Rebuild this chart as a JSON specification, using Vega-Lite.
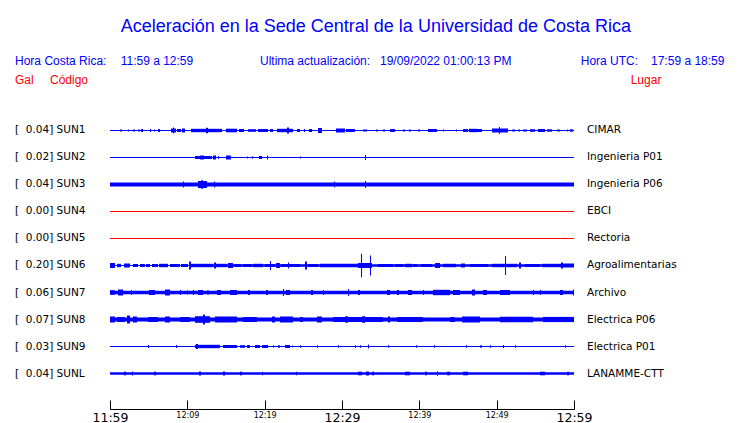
{
  "$schema": "https://vega.github.io/schema/vega-lite/v6.json",
  "width": 464,
  "height": 409,
  "autosize": "none",
  "padding": {"left": 110, "top": 0, "right": 166, "bottom": 14},
  "background": "white",
  "config": {"view": {"stroke": null}},
  "title": {
    "text": "Aceleración en la Sede Central de la Universidad de Costa Rica",
    "anchor": "start", "frame": "group", "dx": 10.7, "offset": -50,
    "baseline": "alphabetic", "font": "Liberation Sans", "fontSize": 18,
    "fontWeight": "normal", "color": "#0000ff"
  },
  "datasets": {
    "estaciones": [
      {"fila": 0, "codigo": "SUN1", "gal": 0.04, "etiqueta": "[\u00a0\u00a00.04]\u00a0SUN1", "lugar": "CIMAR", "estado": "activa"},
      {"fila": 1, "codigo": "SUN2", "gal": 0.02, "etiqueta": "[\u00a0\u00a00.02]\u00a0SUN2", "lugar": "Ingenieria P01", "estado": "activa"},
      {"fila": 2, "codigo": "SUN3", "gal": 0.04, "etiqueta": "[\u00a0\u00a00.04]\u00a0SUN3", "lugar": "Ingenieria P06", "estado": "activa"},
      {"fila": 3, "codigo": "SUN4", "gal": 0.00, "etiqueta": "[\u00a0\u00a00.00]\u00a0SUN4", "lugar": "EBCI", "estado": "inactiva"},
      {"fila": 4, "codigo": "SUN5", "gal": 0.00, "etiqueta": "[\u00a0\u00a00.00]\u00a0SUN5", "lugar": "Rectoria", "estado": "inactiva"},
      {"fila": 5, "codigo": "SUN6", "gal": 0.20, "etiqueta": "[\u00a0\u00a00.20]\u00a0SUN6", "lugar": "Agroalimentarias", "estado": "activa"},
      {"fila": 6, "codigo": "SUN7", "gal": 0.06, "etiqueta": "[\u00a0\u00a00.06]\u00a0SUN7", "lugar": "Archivo", "estado": "activa"},
      {"fila": 7, "codigo": "SUN8", "gal": 0.07, "etiqueta": "[\u00a0\u00a00.07]\u00a0SUN8", "lugar": "Electrica P06", "estado": "activa"},
      {"fila": 8, "codigo": "SUN9", "gal": 0.03, "etiqueta": "[\u00a0\u00a00.03]\u00a0SUN9", "lugar": "Electrica P01", "estado": "activa"},
      {"fila": 9, "codigo": "SUNL", "gal": 0.04, "etiqueta": "[\u00a0\u00a00.04]\u00a0SUNL", "lugar": "LANAMME-CTT", "estado": "activa"}
    ],
    "encabezado": [
      {"texto": "Hora Costa Rica:", "t": -12.28, "linea": 1},
      {"texto": "11:59 a 12:59", "t": 1.38, "linea": 1},
      {"texto": "Ultima actualización:", "t": 19.40, "linea": 1},
      {"texto": "19/09/2022 01:00:13 PM", "t": 34.91, "linea": 1},
      {"texto": "Hora UTC:", "t": 60.87, "linea": 1},
      {"texto": "17:59 a 18:59", "t": 69.96, "linea": 1},
      {"texto": "Gal", "t": -12.28, "linea": 2},
      {"texto": "Código", "t": -7.76, "linea": 2},
      {"texto": "Lugar", "t": 67.33, "linea": 2}
    ],
    "trazas": [
      {"e":"SUN1","t0":1.29,"t1":1.55,"lo":-0.037,"hi":0.037},
      {"e":"SUN1","t0":2.33,"t1":2.46,"lo":-0.037,"hi":0.037},
      {"e":"SUN1","t0":2.97,"t1":3.23,"lo":-0.037,"hi":0.037},
      {"e":"SUN1","t0":3.62,"t1":3.88,"lo":-0.037,"hi":0.037},
      {"e":"SUN1","t0":4.01,"t1":4.27,"lo":-0.055,"hi":0.055},
      {"e":"SUN1","t0":5.17,"t1":5.30,"lo":-0.055,"hi":0.055},
      {"e":"SUN1","t0":5.69,"t1":5.82,"lo":-0.037,"hi":0.037},
      {"e":"SUN1","t0":6.21,"t1":6.47,"lo":-0.055,"hi":0.055},
      {"e":"SUN1","t0":7.89,"t1":8.53,"lo":-0.074,"hi":0.074},
      {"e":"SUN1","t0":8.15,"t1":8.28,"lo":-0.111,"hi":0.111},
      {"e":"SUN1","t0":8.66,"t1":9.18,"lo":-0.055,"hi":0.055},
      {"e":"SUN1","t0":9.31,"t1":9.70,"lo":-0.074,"hi":0.074},
      {"e":"SUN1","t0":10.47,"t1":14.48,"lo":-0.063,"hi":0.063},
      {"e":"SUN1","t0":12.41,"t1":12.67,"lo":-0.1,"hi":0.1},
      {"e":"SUN1","t0":15.0,"t1":16.42,"lo":-0.067,"hi":0.067},
      {"e":"SUN1","t0":16.68,"t1":17.33,"lo":-0.055,"hi":0.055},
      {"e":"SUN1","t0":17.84,"t1":18.88,"lo":-0.048,"hi":0.048},
      {"e":"SUN1","t0":19.14,"t1":20.43,"lo":-0.055,"hi":0.055},
      {"e":"SUN1","t0":20.69,"t1":21.08,"lo":-0.055,"hi":0.055},
      {"e":"SUN1","t0":21.59,"t1":23.66,"lo":-0.063,"hi":0.063},
      {"e":"SUN1","t0":22.89,"t1":23.15,"lo":-0.111,"hi":0.111},
      {"e":"SUN1","t0":24.18,"t1":24.57,"lo":-0.055,"hi":0.055},
      {"e":"SUN1","t0":25.09,"t1":25.22,"lo":-0.055,"hi":0.055},
      {"e":"SUN1","t0":25.73,"t1":26.12,"lo":-0.055,"hi":0.055},
      {"e":"SUN1","t0":26.90,"t1":27.41,"lo":-0.092,"hi":0.092},
      {"e":"SUN1","t0":29.22,"t1":30.39,"lo":-0.074,"hi":0.074},
      {"e":"SUN1","t0":30.52,"t1":31.68,"lo":-0.055,"hi":0.055},
      {"e":"SUN1","t0":32.72,"t1":33.23,"lo":-0.037,"hi":0.037},
      {"e":"SUN1","t0":34.40,"t1":34.66,"lo":-0.037,"hi":0.037},
      {"e":"SUN1","t0":35.30,"t1":35.56,"lo":-0.037,"hi":0.037},
      {"e":"SUN1","t0":36.21,"t1":36.85,"lo":-0.055,"hi":0.055},
      {"e":"SUN1","t0":37.89,"t1":38.15,"lo":-0.037,"hi":0.037},
      {"e":"SUN1","t0":38.66,"t1":38.92,"lo":-0.037,"hi":0.037},
      {"e":"SUN1","t0":39.83,"t1":40.09,"lo":-0.037,"hi":0.037},
      {"e":"SUN1","t0":41.12,"t1":42.28,"lo":-0.055,"hi":0.055},
      {"e":"SUN1","t0":43.06,"t1":43.19,"lo":-0.037,"hi":0.037},
      {"e":"SUN1","t0":44.74,"t1":44.87,"lo":-0.037,"hi":0.037},
      {"e":"SUN1","t0":45.65,"t1":46.29,"lo":-0.055,"hi":0.055},
      {"e":"SUN1","t0":46.42,"t1":47.46,"lo":-0.063,"hi":0.063},
      {"e":"SUN1","t0":47.46,"t1":48.10,"lo":-0.055,"hi":0.055},
      {"e":"SUN1","t0":49.40,"t1":51.47,"lo":-0.074,"hi":0.074},
      {"e":"SUN1","t0":50.30,"t1":50.43,"lo":-0.129,"hi":0.129},
      {"e":"SUN1","t0":51.98,"t1":52.37,"lo":-0.037,"hi":0.037},
      {"e":"SUN1","t0":52.76,"t1":53.02,"lo":-0.037,"hi":0.037},
      {"e":"SUN1","t0":53.41,"t1":53.92,"lo":-0.037,"hi":0.037},
      {"e":"SUN1","t0":54.31,"t1":54.96,"lo":-0.048,"hi":0.048},
      {"e":"SUN1","t0":55.34,"t1":56.25,"lo":-0.055,"hi":0.055},
      {"e":"SUN1","t0":56.51,"t1":57.16,"lo":-0.044,"hi":0.044},
      {"e":"SUN1","t0":57.80,"t1":58.19,"lo":-0.037,"hi":0.037},
      {"e":"SUN1","t0":59.10,"t1":59.22,"lo":-0.037,"hi":0.037},
      {"e":"SUN1","t0":59.48,"t1":59.87,"lo":-0.044,"hi":0.044},

      {"e":"SUN2","t0":10.99,"t1":13.19,"lo":0.945,"hi":1.055},
      {"e":"SUN2","t0":11.64,"t1":12.16,"lo":0.926,"hi":1.074},
      {"e":"SUN2","t0":13.32,"t1":13.71,"lo":0.926,"hi":1.074},
      {"e":"SUN2","t0":13.97,"t1":14.09,"lo":0.945,"hi":1.055},
      {"e":"SUN2","t0":15.0,"t1":15.65,"lo":0.926,"hi":1.074},
      {"e":"SUN2","t0":17.72,"t1":17.84,"lo":0.963,"hi":1.037},
      {"e":"SUN2","t0":18.36,"t1":18.49,"lo":0.956,"hi":1.044},
      {"e":"SUN2","t0":19.27,"t1":19.66,"lo":0.945,"hi":1.055},
      {"e":"SUN2","t0":20.30,"t1":20.43,"lo":0.926,"hi":1.074},
      {"e":"SUN2","t0":24.57,"t1":24.70,"lo":0.963,"hi":1.037},
      {"e":"SUN2","t0":32.97,"t1":33.10,"lo":0.908,"hi":1.092},

      {"e":"SUN3","t0":0,"t1":60,"lo":1.926,"hi":2.074},
      {"e":"SUN3","t0":11.38,"t1":12.54,"lo":1.871,"hi":2.129},
      {"e":"SUN3","t0":11.77,"t1":12.03,"lo":1.845,"hi":2.155},
      {"e":"SUN3","t0":9.44,"t1":9.57,"lo":1.889,"hi":2.111},
      {"e":"SUN3","t0":13.45,"t1":13.58,"lo":1.889,"hi":2.111},
      {"e":"SUN3","t0":32.97,"t1":33.10,"lo":1.871,"hi":2.129},
      {"e":"SUN3","t0":28.97,"t1":29.09,"lo":1.889,"hi":2.111},

      {"e":"SUN6","t0":10.47,"t1":60,"lo":4.952,"hi":5.048},
      {"e":"SUN6","t0":0,"t1":0.65,"lo":4.908,"hi":5.092},
      {"e":"SUN6","t0":0.91,"t1":1.42,"lo":4.937,"hi":5.063},
      {"e":"SUN6","t0":1.81,"t1":2.59,"lo":4.926,"hi":5.074},
      {"e":"SUN6","t0":2.97,"t1":3.62,"lo":4.945,"hi":5.055},
      {"e":"SUN6","t0":3.88,"t1":4.53,"lo":4.945,"hi":5.055},
      {"e":"SUN6","t0":4.66,"t1":5.17,"lo":4.945,"hi":5.055},
      {"e":"SUN6","t0":5.43,"t1":6.21,"lo":4.945,"hi":5.055},
      {"e":"SUN6","t0":6.34,"t1":7.50,"lo":4.937,"hi":5.063},
      {"e":"SUN6","t0":7.76,"t1":9.05,"lo":4.945,"hi":5.055},
      {"e":"SUN6","t0":9.18,"t1":10.09,"lo":4.945,"hi":5.055},
      {"e":"SUN6","t0":10.22,"t1":10.47,"lo":4.852,"hi":5.148},
      {"e":"SUN6","t0":10.47,"t1":13.32,"lo":4.937,"hi":5.063},
      {"e":"SUN6","t0":13.45,"t1":13.71,"lo":4.889,"hi":5.111},
      {"e":"SUN6","t0":13.71,"t1":15.13,"lo":4.937,"hi":5.063},
      {"e":"SUN6","t0":15.26,"t1":15.91,"lo":4.908,"hi":5.092},
      {"e":"SUN6","t0":16.03,"t1":16.94,"lo":4.945,"hi":5.055},
      {"e":"SUN6","t0":17.20,"t1":18.36,"lo":4.945,"hi":5.055},
      {"e":"SUN6","t0":18.49,"t1":19.78,"lo":4.937,"hi":5.063},
      {"e":"SUN6","t0":20.04,"t1":21.34,"lo":4.945,"hi":5.055},
      {"e":"SUN6","t0":20.69,"t1":20.82,"lo":4.834,"hi":5.166},
      {"e":"SUN6","t0":21.47,"t1":21.98,"lo":4.908,"hi":5.092},
      {"e":"SUN6","t0":22.11,"t1":24.57,"lo":4.945,"hi":5.055},
      {"e":"SUN6","t0":23.02,"t1":23.15,"lo":4.889,"hi":5.111},
      {"e":"SUN6","t0":25.22,"t1":25.47,"lo":4.852,"hi":5.148},
      {"e":"SUN6","t0":25.60,"t1":26.90,"lo":4.945,"hi":5.055},
      {"e":"SUN6","t0":27.16,"t1":32.07,"lo":4.937,"hi":5.063},
      {"e":"SUN6","t0":32.07,"t1":33.88,"lo":4.908,"hi":5.092},
      {"e":"SUN6","t0":32.46,"t1":32.59,"lo":4.567,"hi":5.433},
      {"e":"SUN6","t0":33.62,"t1":33.75,"lo":4.63,"hi":5.37},
      {"e":"SUN6","t0":34.66,"t1":36.59,"lo":4.945,"hi":5.055},
      {"e":"SUN6","t0":36.85,"t1":37.89,"lo":4.945,"hi":5.055},
      {"e":"SUN6","t0":38.15,"t1":39.05,"lo":4.937,"hi":5.063},
      {"e":"SUN6","t0":39.18,"t1":39.70,"lo":4.945,"hi":5.055},
      {"e":"SUN6","t0":40.22,"t1":41.64,"lo":4.945,"hi":5.055},
      {"e":"SUN6","t0":42.03,"t1":42.67,"lo":4.908,"hi":5.092},
      {"e":"SUN6","t0":43.06,"t1":44.74,"lo":4.937,"hi":5.063},
      {"e":"SUN6","t0":45.39,"t1":45.91,"lo":4.926,"hi":5.074},
      {"e":"SUN6","t0":46.55,"t1":48.88,"lo":4.945,"hi":5.055},
      {"e":"SUN6","t0":49.40,"t1":52.63,"lo":4.937,"hi":5.063},
      {"e":"SUN6","t0":51.08,"t1":51.21,"lo":4.649,"hi":5.351},
      {"e":"SUN6","t0":52.89,"t1":53.15,"lo":4.889,"hi":5.111},
      {"e":"SUN6","t0":53.66,"t1":55.60,"lo":4.945,"hi":5.055},
      {"e":"SUN6","t0":55.86,"t1":58.45,"lo":4.937,"hi":5.063},
      {"e":"SUN6","t0":58.32,"t1":58.58,"lo":4.889,"hi":5.111},
      {"e":"SUN6","t0":58.58,"t1":60,"lo":4.926,"hi":5.074},

      {"e":"SUN7","t0":0,"t1":60,"lo":5.933,"hi":6.067},
      {"e":"SUN7","t0":0,"t1":0.65,"lo":5.915,"hi":6.085},
      {"e":"SUN7","t0":1.03,"t1":1.68,"lo":5.889,"hi":6.111},
      {"e":"SUN7","t0":2.72,"t1":2.84,"lo":5.908,"hi":6.092},
      {"e":"SUN7","t0":5.04,"t1":5.82,"lo":5.908,"hi":6.092},
      {"e":"SUN7","t0":7.11,"t1":7.76,"lo":5.889,"hi":6.111},
      {"e":"SUN7","t0":9.05,"t1":9.18,"lo":5.908,"hi":6.092},
      {"e":"SUN7","t0":9.96,"t1":10.09,"lo":5.926,"hi":6.074},
      {"e":"SUN7","t0":10.73,"t1":10.86,"lo":5.908,"hi":6.092},
      {"e":"SUN7","t0":11.38,"t1":12.03,"lo":5.908,"hi":6.092},
      {"e":"SUN7","t0":12.54,"t1":12.80,"lo":5.926,"hi":6.074},
      {"e":"SUN7","t0":13.84,"t1":14.35,"lo":5.908,"hi":6.092},
      {"e":"SUN7","t0":15.52,"t1":16.42,"lo":5.908,"hi":6.092},
      {"e":"SUN7","t0":17.84,"t1":18.10,"lo":5.908,"hi":6.092},
      {"e":"SUN7","t0":20.17,"t1":20.43,"lo":5.908,"hi":6.092},
      {"e":"SUN7","t0":22.37,"t1":22.50,"lo":5.871,"hi":6.129},
      {"e":"SUN7","t0":22.76,"t1":23.28,"lo":5.908,"hi":6.092},
      {"e":"SUN7","t0":25.99,"t1":26.25,"lo":5.908,"hi":6.092},
      {"e":"SUN7","t0":27.54,"t1":27.67,"lo":5.908,"hi":6.092},
      {"e":"SUN7","t0":30.78,"t1":30.90,"lo":5.871,"hi":6.129},
      {"e":"SUN7","t0":32.07,"t1":32.33,"lo":5.908,"hi":6.092},
      {"e":"SUN7","t0":35.82,"t1":36.21,"lo":5.908,"hi":6.092},
      {"e":"SUN7","t0":37.11,"t1":37.37,"lo":5.908,"hi":6.092},
      {"e":"SUN7","t0":38.53,"t1":39.05,"lo":5.908,"hi":6.092},
      {"e":"SUN7","t0":40.47,"t1":40.60,"lo":5.908,"hi":6.092},
      {"e":"SUN7","t0":41.77,"t1":43.97,"lo":5.9,"hi":6.1},
      {"e":"SUN7","t0":44.35,"t1":45.26,"lo":5.908,"hi":6.092},
      {"e":"SUN7","t0":46.81,"t1":47.20,"lo":5.889,"hi":6.111},
      {"e":"SUN7","t0":48.23,"t1":48.75,"lo":5.908,"hi":6.092},
      {"e":"SUN7","t0":50.43,"t1":51.72,"lo":5.908,"hi":6.092},
      {"e":"SUN7","t0":54.70,"t1":54.83,"lo":5.908,"hi":6.092},
      {"e":"SUN7","t0":55.60,"t1":55.73,"lo":5.908,"hi":6.092},
      {"e":"SUN7","t0":58.19,"t1":58.58,"lo":5.908,"hi":6.092},
      {"e":"SUN7","t0":59.87,"t1":60,"lo":5.889,"hi":6.111},

      {"e":"SUN8","t0":0,"t1":60,"lo":6.926,"hi":7.074},
      {"e":"SUN8","t0":0,"t1":0.65,"lo":6.889,"hi":7.111},
      {"e":"SUN8","t0":0.91,"t1":1.94,"lo":6.908,"hi":7.092},
      {"e":"SUN8","t0":2.20,"t1":2.59,"lo":6.852,"hi":7.148},
      {"e":"SUN8","t0":2.97,"t1":3.49,"lo":6.889,"hi":7.111},
      {"e":"SUN8","t0":4.91,"t1":6.21,"lo":6.908,"hi":7.092},
      {"e":"SUN8","t0":7.11,"t1":7.76,"lo":6.889,"hi":7.111},
      {"e":"SUN8","t0":9.05,"t1":10.34,"lo":6.908,"hi":7.092},
      {"e":"SUN8","t0":10.99,"t1":12.93,"lo":6.878,"hi":7.122},
      {"e":"SUN8","t0":12.03,"t1":12.28,"lo":6.815,"hi":7.185},
      {"e":"SUN8","t0":13.58,"t1":16.42,"lo":6.889,"hi":7.111},
      {"e":"SUN8","t0":17.20,"t1":19.01,"lo":6.908,"hi":7.092},
      {"e":"SUN8","t0":20.95,"t1":21.34,"lo":6.889,"hi":7.111},
      {"e":"SUN8","t0":21.98,"t1":23.66,"lo":6.889,"hi":7.111},
      {"e":"SUN8","t0":24.57,"t1":24.96,"lo":6.908,"hi":7.092},
      {"e":"SUN8","t0":26.77,"t1":27.41,"lo":6.889,"hi":7.111},
      {"e":"SUN8","t0":28.84,"t1":35.30,"lo":6.908,"hi":7.092},
      {"e":"SUN8","t0":30.39,"t1":30.78,"lo":6.882,"hi":7.118},
      {"e":"SUN8","t0":32.59,"t1":32.97,"lo":6.878,"hi":7.122},
      {"e":"SUN8","t0":35.95,"t1":36.21,"lo":6.889,"hi":7.111},
      {"e":"SUN8","t0":37.11,"t1":40.47,"lo":6.908,"hi":7.092},
      {"e":"SUN8","t0":43.97,"t1":44.61,"lo":6.908,"hi":7.092},
      {"e":"SUN8","t0":45.52,"t1":47.84,"lo":6.889,"hi":7.111},
      {"e":"SUN8","t0":50.43,"t1":54.70,"lo":6.896,"hi":7.104},
      {"e":"SUN8","t0":55.99,"t1":60,"lo":6.904,"hi":7.096},

      {"e":"SUN9","t0":4.91,"t1":5.04,"lo":7.945,"hi":8.055},
      {"e":"SUN9","t0":8.53,"t1":8.66,"lo":7.945,"hi":8.055},
      {"e":"SUN9","t0":10.99,"t1":14.22,"lo":7.937,"hi":8.063},
      {"e":"SUN9","t0":11.12,"t1":11.38,"lo":7.908,"hi":8.092},
      {"e":"SUN9","t0":14.61,"t1":16.42,"lo":7.945,"hi":8.055},
      {"e":"SUN9","t0":16.81,"t1":17.46,"lo":7.952,"hi":8.048},
      {"e":"SUN9","t0":17.72,"t1":18.10,"lo":7.945,"hi":8.055},
      {"e":"SUN9","t0":18.75,"t1":19.40,"lo":7.945,"hi":8.055},
      {"e":"SUN9","t0":19.66,"t1":20.43,"lo":7.945,"hi":8.055},
      {"e":"SUN9","t0":21.08,"t1":21.21,"lo":7.952,"hi":8.048},
      {"e":"SUN9","t0":21.72,"t1":21.98,"lo":7.956,"hi":8.044},
      {"e":"SUN9","t0":22.63,"t1":23.28,"lo":7.945,"hi":8.055},
      {"e":"SUN9","t0":23.53,"t1":23.66,"lo":7.963,"hi":8.037},
      {"e":"SUN9","t0":24.57,"t1":24.70,"lo":7.956,"hi":8.044},
      {"e":"SUN9","t0":26.77,"t1":26.90,"lo":7.956,"hi":8.044},
      {"e":"SUN9","t0":29.48,"t1":29.61,"lo":7.956,"hi":8.044},
      {"e":"SUN9","t0":31.68,"t1":31.81,"lo":7.952,"hi":8.048},
      {"e":"SUN9","t0":32.33,"t1":32.46,"lo":7.956,"hi":8.044},
      {"e":"SUN9","t0":33.36,"t1":33.49,"lo":7.926,"hi":8.074},
      {"e":"SUN9","t0":35.95,"t1":36.08,"lo":7.956,"hi":8.044},
      {"e":"SUN9","t0":39.57,"t1":39.70,"lo":7.956,"hi":8.044},
      {"e":"SUN9","t0":41.90,"t1":42.03,"lo":7.956,"hi":8.044},
      {"e":"SUN9","t0":46.03,"t1":46.16,"lo":7.956,"hi":8.044},
      {"e":"SUN9","t0":47.84,"t1":48.10,"lo":7.956,"hi":8.044},
      {"e":"SUN9","t0":49.14,"t1":49.27,"lo":7.956,"hi":8.044},
      {"e":"SUN9","t0":50.82,"t1":50.95,"lo":7.945,"hi":8.055},
      {"e":"SUN9","t0":52.37,"t1":52.50,"lo":7.956,"hi":8.044},
      {"e":"SUN9","t0":58.84,"t1":58.97,"lo":7.956,"hi":8.044},

      {"e":"SUNL","t0":0,"t1":60,"lo":8.952,"hi":9.048},
      {"e":"SUNL","t0":1.81,"t1":2.07,"lo":8.933,"hi":9.067},
      {"e":"SUNL","t0":2.84,"t1":2.97,"lo":8.926,"hi":9.074},
      {"e":"SUNL","t0":5.69,"t1":5.95,"lo":8.933,"hi":9.067},
      {"e":"SUNL","t0":11.51,"t1":11.77,"lo":8.926,"hi":9.074},
      {"e":"SUNL","t0":14.61,"t1":14.87,"lo":8.926,"hi":9.074},
      {"e":"SUNL","t0":16.81,"t1":17.07,"lo":8.933,"hi":9.067},
      {"e":"SUNL","t0":19.66,"t1":19.78,"lo":8.933,"hi":9.067},
      {"e":"SUNL","t0":24.05,"t1":24.18,"lo":8.933,"hi":9.067},
      {"e":"SUNL","t0":32.07,"t1":32.59,"lo":8.933,"hi":9.067},
      {"e":"SUNL","t0":33.10,"t1":33.49,"lo":8.926,"hi":9.074},
      {"e":"SUNL","t0":33.88,"t1":34.14,"lo":8.933,"hi":9.067},
      {"e":"SUNL","t0":38.15,"t1":38.79,"lo":8.933,"hi":9.067},
      {"e":"SUNL","t0":40.73,"t1":40.99,"lo":8.933,"hi":9.067},
      {"e":"SUNL","t0":42.28,"t1":42.41,"lo":8.919,"hi":9.081},
      {"e":"SUNL","t0":43.58,"t1":43.97,"lo":8.933,"hi":9.067},
      {"e":"SUNL","t0":45.65,"t1":46.29,"lo":8.933,"hi":9.067},
      {"e":"SUNL","t0":55.60,"t1":56.25,"lo":8.933,"hi":9.067},
      {"e":"SUNL","t0":59.10,"t1":59.35,"lo":8.933,"hi":9.067}
    ]
  },
  "layer": [
    {
      "data": {"name": "estaciones"},
      "mark": {"type": "rule", "strokeWidth": 1},
      "encoding": {
        "x": {"datum": 0, "type": "quantitative"},
        "x2": {"datum": 60},
        "y": {"field": "fila", "type": "quantitative",
              "scale": {"domain": [-4.8333, 10.3148], "reverse": true, "nice": false, "zero": false},
              "axis": null},
        "color": {"field": "estado", "type": "nominal",
                  "scale": {"domain": ["activa", "inactiva"], "range": ["#0000ff", "#ff0000"]},
                  "legend": null}
      }
    },
    {
      "data": {"name": "trazas"},
      "mark": {"type": "rect", "color": "#0000ff"},
      "encoding": {
        "x": {"field": "t0", "type": "quantitative",
              "scale": {"domain": [0, 60], "nice": false, "zero": false},
              "axis": {
                "orient": "bottom", "title": null, "grid": false,
                "values": [0, 5, 10, 15, 20, 25, 30, 35, 40, 45, 50, 55, 60],
                "domainColor": "#000000", "domainWidth": 1,
                "tickColor": "#000000", "tickWidth": 1, "tickSize": -9,
                "labelExpr": "datum.value % 10 === 0 ? ['11:59','12:09','12:19','12:29','12:39','12:49','12:59'][datum.value / 10] : ''",
                "labelFont": "DejaVu Sans",
                "labelFontSize": {"condition": {"test": "datum.value % 30 === 0", "value": 12.5}, "value": 8},
                "labelColor": "#000000", "labelBaseline": "top", "labelPadding": 11,
                "labelFlush": false, "labelOverlap": false, "labelBound": false
              }},
        "x2": {"field": "t1"},
        "y": {"field": "lo", "type": "quantitative", "axis": null},
        "y2": {"field": "hi"}
      }
    },
    {
      "data": {"name": "estaciones"},
      "mark": {"type": "text", "align": "left", "baseline": "middle", "font": "DejaVu Sans", "fontSize": 10.5, "color": "#000000"},
      "encoding": {
        "x": {"datum": -12.28, "type": "quantitative"},
        "y": {"field": "fila", "type": "quantitative", "axis": null},
        "text": {"field": "etiqueta"}
      }
    },
    {
      "data": {"name": "estaciones"},
      "mark": {"type": "text", "align": "left", "baseline": "middle", "font": "DejaVu Sans", "fontSize": 10.5, "color": "#000000"},
      "encoding": {
        "x": {"datum": 61.68, "type": "quantitative"},
        "y": {"field": "fila", "type": "quantitative", "axis": null},
        "text": {"field": "lugar"}
      }
    },
    {
      "data": {"name": "encabezado"},
      "transform": [{"filter": "datum.linea === 1"}],
      "mark": {"type": "text", "align": "left", "baseline": "alphabetic", "font": "Liberation Sans", "fontSize": 12, "color": "#0000ff"},
      "encoding": {
        "x": {"field": "t", "type": "quantitative"},
        "y": {"datum": -2.426, "type": "quantitative"},
        "text": {"field": "texto"}
      }
    },
    {
      "data": {"name": "encabezado"},
      "transform": [{"filter": "datum.linea === 2"}],
      "mark": {"type": "text", "align": "left", "baseline": "alphabetic", "font": "Liberation Sans", "fontSize": 12, "color": "#ff0000"},
      "encoding": {
        "x": {"field": "t", "type": "quantitative"},
        "y": {"datum": -1.711, "type": "quantitative"},
        "text": {"field": "texto"}
      }
    }
  ]
}
